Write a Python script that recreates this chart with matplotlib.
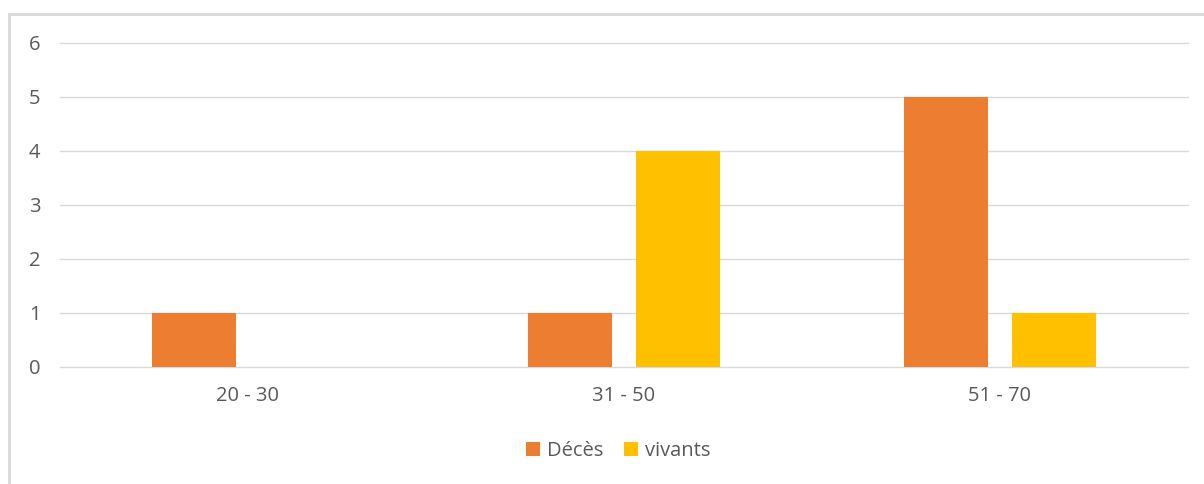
import matplotlib.pyplot as plt
import numpy as np
from matplotlib.patches import Rectangle

plt.rcParams['font.family'] = ['Open Sans', 'DejaVu Sans']

categories = ['20 - 30', '31 - 50', '51 - 70']
deces = [1, 1, 5]
vivants = [0, 4, 1]

W, H = 1204, 484
fig = plt.figure(figsize=(W / 100, H / 100), dpi=100)

# cadre gris autour du graphique
fig.patches.append(Rectangle((9 / W, -0.1), 1.2, (H - 14) / H + 0.1,
                             transform=fig.transFigure, fill=False,
                             edgecolor='#d9d9d9', linewidth=2))

ax = fig.add_axes([60 / W, (H - 367) / H, (1188 - 60) / W, (367 - 43) / H])

x = np.arange(len(categories))
width = 0.223
off = 0.1436
ax.bar(x - off, deces, width, color='#ED7D31', label='Décès', zorder=3)
ax.bar(x + off, vivants, width, color='#FFC000', label='vivants', zorder=3)

ax.set_xlim(-0.5, len(categories) - 0.5)
ax.set_ylim(0, 6)
ax.set_yticks(range(0, 7))
ax.yaxis.grid(True, color='#d9d9d9', linewidth=1.0)
for gl in ax.yaxis.get_gridlines():
    gl.set_clip_on(False)
ax.set_axisbelow(True)
for s in ax.spines.values():
    s.set_visible(False)
ax.tick_params(length=0, labelsize=14.5, colors='#595959')
ax.tick_params(axis='y', pad=14)
ax.tick_params(axis='x', pad=14)
ax.set_xticks(x)
ax.set_xticklabels(categories)

ax.legend(loc='center', bbox_to_anchor=(618 / W, 1 - 451 / H),
          bbox_transform=fig.transFigure, ncol=2, frameon=False,
          fontsize=14.5, labelcolor='#595959', handlelength=0.7,
          handleheight=0.7, handletextpad=0.35, columnspacing=1.0)

fig.savefig('out.png', dpi=100, facecolor='white')
